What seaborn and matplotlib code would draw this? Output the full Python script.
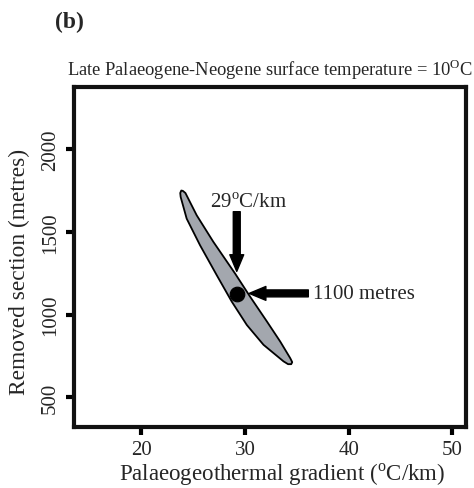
import numpy as np
import pandas as pd
import seaborn as sns
import matplotlib
matplotlib.use("Agg")
import matplotlib.pyplot as plt

# Outline of the solution region (gradient in C/km, removed section in m)
outline_x = [24.0, 24.25, 25.34, 26.94, 29.04, 30.49, 32.11, 33.39, 34.36, 34.55, 34.45, 34.15,
             33.71, 31.78, 30.17, 28.72, 27.27, 25.66, 24.37, 23.79, 23.75, 23.85]
outline_y = [1748, 1735, 1600, 1440, 1248, 1108, 958, 837, 736, 712, 700, 700,
             717, 817, 937, 1078, 1238, 1419, 1580, 1711, 1735, 1750]

# Best fit point
best_gradient = [29.2]
best_section = [1122]

x_ticks = [20, 30, 40, 50]
y_ticks = [500, 1000, 1500, 2000]

sns.set_theme(style="white")
plt.rcParams['font.family'] = ['Liberation Serif', 'DejaVu Serif']
plt.rcParams['mathtext.fontset'] = 'custom'
plt.rcParams['mathtext.rm'] = 'Liberation Serif'

fig = plt.figure(figsize=(4.74, 4.89), dpi=100)
ax = fig.add_axes([0.156, 0.1247, 0.827, 0.695])

df = pd.DataFrame({"x": best_gradient, "y": best_section})

# Shaded region and best point
ax.fill(outline_x, outline_y, facecolor='#a3a7ae', edgecolor='black', linewidth=1.3,
        joinstyle='round', zorder=2)
sns.scatterplot(data=df, x="x", y="y", ax=ax, color='black', s=110, edgecolor='black', zorder=3, legend=False)

# Arrows and labels
arrow_kw = dict(facecolor='black', edgecolor='black', width=5, headwidth=10, headlength=12, shrink=0)
ax.annotate('', xy=(29.2, 1261), xytext=(29.2, 1622), arrowprops=arrow_kw)
ax.text(30.3, 1676, r'29$^{\rm o}$C/km', ha='center', va='center', fontsize=15)
ax.annotate('', xy=(30.4, 1128), xytext=(36.1, 1128), arrowprops=arrow_kw)
ax.text(36.6, 1128, '1100 metres', ha='left', va='center', fontsize=15)

ax.set_xlim(13.5, 51.3)
ax.set_ylim(320, 2375)
ax.set_xticks(x_ticks)
ax.set_yticks(y_ticks)
ax.tick_params(axis='both', direction='out', length=6, width=3, labelsize=15, color='black',
               bottom=True, left=True)
ax.tick_params(axis='x', pad=3)
ax.tick_params(axis='y', pad=4)
plt.setp(ax.get_yticklabels(), rotation=90, va='center')

for sp in ax.spines.values():
    sp.set_linewidth(3)
    sp.set_color('#111111')

ax.set_xlabel(r'Palaeogeothermal gradient ($^{\rm o}$C/km)', fontsize=16.5, va='center')
ax.set_ylabel('Removed section (metres)', fontsize=16.8, va='center')
ax.xaxis.set_label_coords(0.531, -0.138)
ax.yaxis.set_label_coords(-0.138, 0.459)
ax.set_title(r'Late Palaeogene-Neogene surface temperature = 10$^{\rm O}$C', fontsize=13.3, pad=9)

fig.text(0.116, 0.955, '(b)', fontsize=17, fontweight='bold', ha='left', va='center')

fig.savefig('out.png', dpi=100)
